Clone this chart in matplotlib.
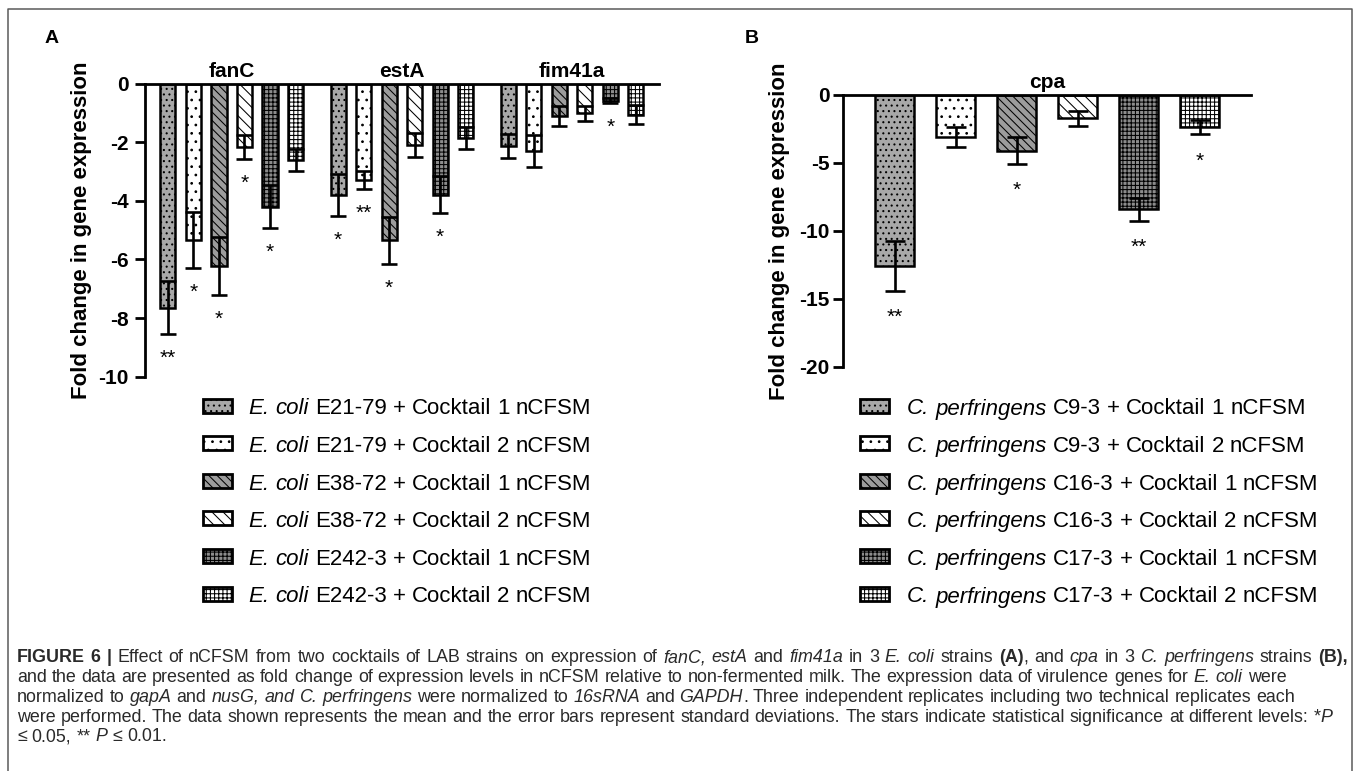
import re
import matplotlib
matplotlib.use("Agg")
import matplotlib.pyplot as plt
from matplotlib.patches import Rectangle
from matplotlib.lines import Line2D

# ---------------- data ----------------
genes_a = ["fanC", "estA", "fim41a"]
fanC_mean = [-7.65, -5.34, -6.22, -2.18, -4.20, -2.61]
fanC_sd = [0.90, 0.96, 1.00, 0.41, 0.74, 0.39]
fanC_sig = ["**", "*", "*", "*", "*", ""]
estA_mean = [-3.80, -3.29, -5.34, -2.10, -3.80, -1.87]
estA_sd = [0.72, 0.32, 0.80, 0.42, 0.63, 0.38]
estA_sig = ["*", "**", "*", "", "*", ""]
fim41a_mean = [-2.13, -2.29, -1.11, -1.02, -0.59, -1.07]
fim41a_sd = [0.42, 0.55, 0.34, 0.25, 0.09, 0.32]
fim41a_sig = ["", "", "", "", "*", ""]

gene_b = "cpa"
cpa_mean = [-12.57, -3.07, -4.10, -1.72, -8.40, -2.38]
cpa_sd = [1.85, 0.73, 1.00, 0.54, 0.85, 0.52]
cpa_sig = ["**", "", "*", "", "**", "*"]

yticks_a = [0, -2, -4, -6, -8, -10]
yticks_b = [0, -5, -10, -15, -20]

species_a = "E. coli"
strains_a = ["E21-79", "E21-79", "E38-72", "E38-72", "E242-3", "E242-3"]
species_b = "C. perfringens"
strains_b = ["C9-3", "C9-3", "C16-3", "C16-3", "C17-3", "C17-3"]
treatments = ["Cocktail 1 nCFSM", "Cocktail 2 nCFSM"] * 3
ylabel = "Fold change in gene expression"

caption_lines = [
    [("FIGURE 6 |", "b"), (" Effect of nCFSM from two cocktails of LAB strains on expression of ", "r"),
     ("fanC, estA", "i"), (" and ", "r"), ("fim41a", "i"), (" in 3 ", "r"), ("E. coli", "i"),
     (" strains ", "r"), ("(A)", "b"), (", and ", "r"), ("cpa", "i"), (" in 3 ", "r"),
     ("C. perfringens", "i"), (" strains ", "r"), ("(B),", "b")],
    [("and the data are presented as fold change of expression levels in nCFSM relative to "
      "non-fermented milk. The expression data of virulence genes for ", "r"),
     ("E. coli", "i"), (" were", "r")],
    [("normalized to ", "r"), ("gapA", "i"), (" and ", "r"), ("nusG, and C. perfringens", "i"),
     (" were normalized to ", "r"), ("16sRNA", "i"), (" and ", "r"), ("GAPDH", "i"),
     (". Three independent replicates including two technical replicates each", "r")],
    [("were performed. The data shown represents the mean and the error bars represent standard "
      "deviations. The stars indicate statistical significance at different levels: *", "r"),
     ("P", "i")],
    [("≤ 0.05, ** ", "r"), ("P", "i"), (" ≤ 0.01.", "r")],
]

# ---------------- styles ----------------
plt.rcParams.update({
    "font.family": ["Liberation Sans", "DejaVu Sans"],
    "axes.unicode_minus": False,
    "hatch.linewidth": 0.75,
})
styles = [
    dict(fc="#a8a8a8", hatch="..."),
    dict(fc="white", hatch=".."),
    dict(fc="#9c9c9c", hatch="\\\\\\\\"),
    dict(fc="white", hatch="\\\\\\"),
    dict(fc="#8c8c8c", hatch="++++"),
    dict(fc="white", hatch="++++"),
]
FONT_KW = {"r": {}, "b": {"fontweight": "bold"}, "i": {"fontstyle": "italic"}}

W, H = 1357, 771
fig = plt.figure(figsize=(W / 100, H / 100), dpi=100)
renderer = fig.canvas.get_renderer()


def axes_px(l, r, t, b):
    return fig.add_axes([l / W, 1 - b / H, (r - l) / W, (b - t) / H])


def style_axes(ax, ticks, pad):
    ax.spines["right"].set_visible(False)
    ax.spines["bottom"].set_visible(False)
    for s in ("top", "left"):
        ax.spines[s].set_linewidth(2.0)
    ax.set_xticks([])
    ax.set_yticks(ticks)
    ax.set_yticklabels([str(t) for t in ticks], fontweight="bold", fontsize=15)
    ax.tick_params(axis="y", length=7.2, width=2.0, pad=pad)
    ax.patch.set_visible(False)


# ---------------- panel A ----------------
axA = axes_px(145, 659, 83.5, 376.7)
group_step = 6.67
width_a = 0.59
means_a = [fanC_mean, estA_mean, fim41a_mean]
sds_a = [fanC_sd, estA_sd, fim41a_sd]
sigs_a = [fanC_sig, estA_sig, fim41a_sig]
for i in range(6):
    xs = [g * group_step + i for g in range(3)]
    axA.bar(xs, [m[i] for m in means_a], width_a, yerr=[s[i] for s in sds_a],
            color=styles[i]["fc"], hatch=styles[i]["hatch"], edgecolor="black",
            linewidth=1.8, capsize=5.8,
            error_kw=dict(elinewidth=1.9, capthick=1.9, ecolor="black"))
    for g in range(3):
        if sigs_a[g][i]:
            yb = means_a[g][i] - sds_a[g][i]
            axA.annotate(sigs_a[g][i], (xs[g], yb), xytext=(0, -21.5),
                         textcoords="offset points", ha="center", va="baseline",
                         fontsize=15, annotation_clip=False)
for g, name in enumerate(genes_a):
    axA.annotate(name, (g * group_step + 2.5, 0), xytext=(0, 4.5),
                 textcoords="offset points", ha="center", va="baseline",
                 fontsize=15, fontweight="bold", annotation_clip=False)
axA.set_xlim(-0.9, 19.25)
axA.set_ylim(-10, 0)
style_axes(axA, yticks_a, 4.5)

# ---------------- panel B ----------------
axB = axes_px(843, 1251, 95, 366.7)
width_b = 0.64
xb = list(range(6))
for i in range(6):
    axB.bar(xb[i], cpa_mean[i], width_b, yerr=cpa_sd[i],
            color=styles[i]["fc"], hatch=styles[i]["hatch"], edgecolor="black",
            linewidth=1.8, capsize=7.5,
            error_kw=dict(elinewidth=1.9, capthick=1.9, ecolor="black"))
    if cpa_sig[i]:
        axB.annotate(cpa_sig[i], (xb[i], cpa_mean[i] - cpa_sd[i]), xytext=(0, -23),
                     textcoords="offset points", ha="center", va="baseline",
                     fontsize=15, annotation_clip=False)
axB.annotate(gene_b, (2.5, 0), xytext=(0, 5), textcoords="offset points",
             ha="center", va="baseline", fontsize=15, fontweight="bold",
             annotation_clip=False)
axB.set_xlim(-0.845, 5.84)
axB.set_ylim(-20, 0)
style_axes(axB, yticks_b, 2.5)

# ---------------- overlay (labels, legends, caption, frame) ----------------
ov = fig.add_axes([0, 0, 1, 1])
ov.set_xlim(0, W)
ov.set_ylim(H, 0)
ov.axis("off")
ov.patch.set_visible(False)


def text_w(s, fs, st):
    t = ov.text(0, 0, s, fontsize=fs, **FONT_KW[st])
    w = t.get_window_extent(renderer).width
    t.remove()
    return w


def advance(s, fs, st):
    return text_w("|" + s + "|", fs, st) - text_w("||", fs, st)


def pieces(segs):
    for txt, st in segs:
        for piece in re.split(r"( )", txt):
            if piece:
                yield piece, st


def rich_width(segs, fs):
    return sum(advance(p, fs, st) for p, st in pieces(segs))


def rich_text(x, y, segs, fs, color="black", target=None):
    extra = 0.0
    if target is not None:
        nat = rich_width(segs, fs)
        nsp = sum(1 for p, _ in pieces(segs) if p == " ")
        if nat < target and nsp:
            extra = (target - nat) / nsp
    for p, st in pieces(segs):
        if p == " ":
            x += advance(" ", fs, st) + extra
        else:
            ov.text(x, y, p, fontsize=fs, ha="left", va="baseline",
                    color=color, **FONT_KW[st])
            x += advance(p, fs, st)


# frame
ov.add_line(Line2D([8, 8, 1352, 1352], [771, 9, 9, 771], color="#5a5a5a", lw=1.1))

# panel letters
ov.text(45, 43, "A", fontsize=14, fontweight="bold", ha="left", va="baseline")
ov.text(745, 43, "B", fontsize=14, fontweight="bold", ha="left", va="baseline")

# y labels
for xl, yc in ((87, 230), (785, 231)):
    ov.text(xl, yc, ylabel, rotation=90, rotation_mode="anchor", ha="center",
            va="baseline", fontsize=16, fontweight="bold")

# legends
row0, row_step = 414.5, 37.6
for species, strains, px, tx in ((species_a, strains_a, 203, 248),
                                  (species_b, strains_b, 860, 907)):
    for k in range(6):
        yb = row0 + k * row_step
        ov.add_patch(Rectangle((px, yb - 9 - 7), 29, 14, facecolor=styles[k]["fc"],
                               hatch=styles[k]["hatch"], edgecolor="black", lw=2.0))
        segs = [(species, "i"), (" " + strains[k] + " + " + treatments[k], "r")]
        rich_text(tx, yb, segs, 16)

# caption: size fitted to the ragged lines, first line justified
cap_left = 17
line_ends = [1293, 1300, 1312]
fits = [12 * (end - cap_left) / rich_width(caption_lines[k + 1], 12)
        for k, end in enumerate(line_ends)]
fs_cap = sum(fits) / len(fits)
cap_y0, cap_step = 662.5, 19.7
for k, segs in enumerate(caption_lines):
    rich_text(cap_left, cap_y0 + k * cap_step, segs, fs_cap, color="#2a2a2a",
              target=(1348 - cap_left) if k == 0 else None)

fig.savefig("out.png", dpi=100)
